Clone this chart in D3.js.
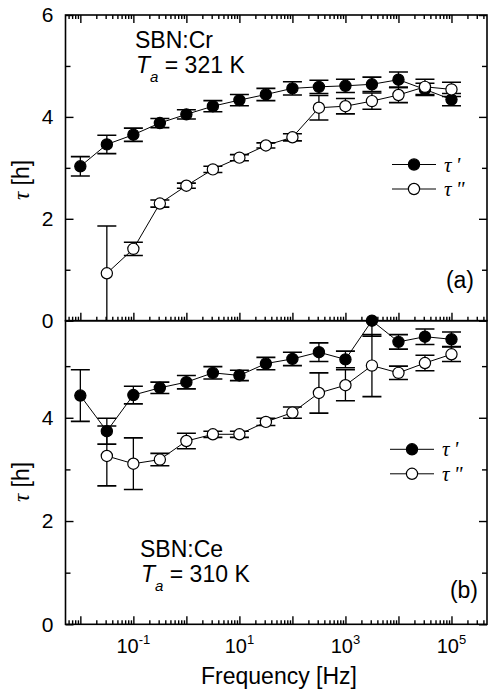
<!DOCTYPE html>
<html>
<head>
<meta charset="utf-8">
<script src="https://cdn.jsdelivr.net/npm/d3@7"></script>
<style>
  body { margin: 0; background: #fff; }
  text { font-family: "Liberation Sans", Arial, sans-serif; fill: #000; }
  .greek { font-family: "Liberation Serif", "DejaVu Serif", serif; font-style: italic; }
</style>
</head>
<body>
<div id="chart"></div>
<script>
// measurement frequencies (Hz)
const freqs = [0.01, 0.0316, 0.1, 0.316, 1, 3.16, 10, 31.6, 100, 316, 1000, 3160, 10000, 31600, 100000];

// (a) SBN:Cr, Ta = 321 K
const tauRealA = [3.03, 3.46, 3.65, 3.88, 4.05, 4.21, 4.33, 4.44, 4.56, 4.59, 4.61, 4.64, 4.73, 4.54, 4.34];
const errRealA = [0.19, 0.18, 0.13, 0.09, 0.09, 0.11, 0.11, 0.12, 0.13, 0.13, 0.13, 0.14, 0.15, 0.12, 0.12];
const tauImagA = [null, 0.93, 1.41, 2.30, 2.65, 2.97, 3.20, 3.44, 3.60, 4.18, 4.21, 4.31, 4.43, 4.59, 4.54];
const errImagA = [null, 0.93, 0.13, 0.07, 0.05, 0.06, 0.06, 0.05, 0.07, 0.24, 0.15, 0.16, 0.15, 0.15, 0.14];

// (b) SBN:Ce, Ta = 310 K
const tauRealB = [4.43, 3.74, 4.44, 4.58, 4.69, 4.87, 4.82, 5.05, 5.14, 5.27, 5.13, 5.88, 5.47, 5.57, 5.52];
const errRealB = [0.50, 0.25, 0.17, 0.11, 0.13, 0.12, 0.10, 0.12, 0.13, 0.18, 0.16, 0.30, 0.14, 0.15, 0.14];
const tauImagB = [null, 3.26, 3.11, 3.19, 3.55, 3.68, 3.68, 3.92, 4.10, 4.48, 4.63, 5.01, 4.87, 5.06, 5.23];
const errImagB = [null, 0.58, 0.50, 0.12, 0.15, 0.06, 0.06, 0.07, 0.11, 0.39, 0.30, 0.60, 0.13, 0.15, 0.14];

const yMajorA = [0, 2, 4, 6], yMinorA = [1, 3, 5];
const yMajorB = [0, 2, 4], yMinorB = [1, 3, 5];
const xLabelExps = [-1, 1, 3, 5];

const width = 488, height = 691;
const left = 65.5, right = 487;

const svg = d3.select("#chart").append("svg").attr("width", width).attr("height", height);

const x = d3.scaleLog().domain([Math.pow(10, -2.28), Math.pow(10, 5.67)]).range([left, right]);

// tick positions for the log axis
let xMajor = [], xMinor = [];
for (let e = -3; e <= 5; e++) {
  for (let k = 1; k <= 9; k++) {
    const v = k * Math.pow(10, e);
    if (v < x.domain()[0] || v > x.domain()[1]) continue;
    if (k == 1) xMajor.push(v); else xMinor.push(v);
  }
}

function drawPanel(cfg) {
  const y = d3.scaleLinear().domain(cfg.domain).range([cfg.bottom, cfg.top]);
  const g = svg.append("g");

  const clipId = "clip" + cfg.name;
  svg.append("clipPath").attr("id", clipId).append("rect")
    .attr("x", left).attr("y", cfg.top).attr("width", right - left).attr("height", cfg.bottom - cfg.top);

  // y ticks, left and right, pointing inward
  const yl = g.append("g").attr("transform", `translate(${left},0)`)
    .call(d3.axisLeft(y).tickValues(cfg.yMajor).tickSize(-8).tickPadding(12).tickFormat(d3.format("d")));
  yl.selectAll("text").style("font-size", "21px");
  g.append("g").attr("transform", `translate(${left},0)`)
    .call(d3.axisLeft(y).tickValues(cfg.yMinor).tickSize(-5).tickFormat(""));
  g.append("g").attr("transform", `translate(${right},0)`)
    .call(d3.axisRight(y).tickValues(cfg.yMajor).tickSize(-8).tickFormat(""));
  g.append("g").attr("transform", `translate(${right},0)`)
    .call(d3.axisRight(y).tickValues(cfg.yMinor).tickSize(-5).tickFormat(""));

  // x ticks on bottom (up), and top for panel a (down)
  g.append("g").attr("transform", `translate(0,${cfg.bottom})`)
    .call(d3.axisBottom(x).tickValues(xMajor).tickSize(-8).tickFormat(""));
  g.append("g").attr("transform", `translate(0,${cfg.bottom})`)
    .call(d3.axisBottom(x).tickValues(xMinor).tickSize(-4).tickFormat(""));
  if (cfg.topTicks) {
    g.append("g").attr("transform", `translate(0,${cfg.top})`)
      .call(d3.axisTop(x).tickValues(xMajor).tickSize(-8).tickFormat(""));
    g.append("g").attr("transform", `translate(0,${cfg.top})`)
      .call(d3.axisTop(x).tickValues(xMinor).tickSize(-4).tickFormat(""));
  }
  g.selectAll(".domain").remove();
  g.selectAll(".tick line").attr("stroke", "#000").attr("stroke-width", 1.4);

  g.append("rect").attr("x", left).attr("y", cfg.top)
    .attr("width", right - left).attr("height", cfg.bottom - cfg.top)
    .attr("fill", "none").attr("stroke", "#000").attr("stroke-width", 1.6);

  const series = [
    {vals: cfg.real, errs: cfg.realErr, fill: "#000"},
    {vals: cfg.imag, errs: cfg.imagErr, fill: "#fff"}
  ];

  const line = d3.line().defined(d => d.v != null).x(d => x(d.f)).y(d => y(d.v));

  series.forEach(s => {
    const pts = freqs.map((f, i) => ({f: f, v: s.vals[i], e: s.errs[i]})).filter(d => d.v != null);
    g.append("path").datum(pts).attr("d", line)
      .attr("fill", "none").attr("stroke", "#000").attr("stroke-width", 1);

    const eb = g.append("g").attr("clip-path", `url(#${clipId})`)
      .selectAll("g").data(pts).enter().append("g");
    eb.append("line")
      .attr("x1", d => x(d.f)).attr("x2", d => x(d.f))
      .attr("y1", d => y(d.v - d.e)).attr("y2", d => y(d.v + d.e))
      .attr("stroke", "#000").attr("stroke-width", 1.3);
    [-1, 1].forEach(sg => {
      eb.append("line")
        .attr("x1", d => x(d.f) - 9.5).attr("x2", d => x(d.f) + 9.5)
        .attr("y1", d => y(d.v + sg * d.e)).attr("y2", d => y(d.v + sg * d.e))
        .attr("stroke", "#000").attr("stroke-width", 1.6);
    });
  });

  series.forEach(s => {
    const pts = freqs.map((f, i) => ({f: f, v: s.vals[i]})).filter(d => d.v != null);
    g.selectAll(null).data(pts).enter().append("circle")
      .attr("cx", d => x(d.f)).attr("cy", d => y(d.v)).attr("r", 5.6)
      .attr("fill", s.fill).attr("stroke", "#000").attr("stroke-width", 1.2);
  });

  // legend
  [{fill: "#000", mark: "'", dy: 0}, {fill: "#fff", mark: "\"", dy: 24.5}].forEach(l => {
    const ly = cfg.legendY + l.dy;
    g.append("line").attr("x1", cfg.legendX - 22).attr("x2", cfg.legendX + 22)
      .attr("y1", ly).attr("y2", ly).attr("stroke", "#000").attr("stroke-width", 1);
    g.append("circle").attr("cx", cfg.legendX).attr("cy", ly).attr("r", 5.6)
      .attr("fill", l.fill).attr("stroke", "#000").attr("stroke-width", 1.2);
    g.append("text").attr("class", "greek").attr("x", cfg.legendX + 30).attr("y", ly + 7)
      .style("font-size", "21px").text("τ\u2009" + l.mark);
  });

  // sample annotation
  g.append("text").attr("x", cfg.noteX).attr("y", cfg.noteY).style("font-size", "23px").text(cfg.sample);
  const t = g.append("text").attr("x", cfg.noteX + 1).attr("y", cfg.noteY + 25).style("font-size", "23px");
  t.append("tspan").style("font-style", "italic").text("T");
  t.append("tspan").style("font-style", "italic").style("font-size", "15px").attr("dy", 9).text("a");
  t.append("tspan").attr("dy", -9).text(" = " + cfg.temp);

  g.append("text").attr("x", cfg.tagX).attr("y", cfg.tagY).attr("text-anchor", "end")
    .style("font-size", "23px").text(cfg.tag);

  // y axis title
  const yt = g.append("text").attr("text-anchor", "middle")
    .attr("transform", `translate(29,${cfg.labelY}) rotate(-90)`).style("font-size", "23px");
  yt.append("tspan").attr("class", "greek").text("τ");
  yt.append("tspan").text(" [h]");
}

drawPanel({name: "a", top: 15, bottom: 320.7, domain: [0, 6], yMajor: yMajorA, yMinor: yMinorA,
  topTicks: true, real: tauRealA, realErr: errRealA, imag: tauImagA, imagErr: errImagA,
  legendX: 414, legendY: 164.5, noteX: 135, noteY: 48, sample: "SBN:Cr", temp: "321 K",
  tag: "(a)", tagX: 474, tagY: 288, labelY: 180});

drawPanel({name: "b", top: 320.7, bottom: 624.3, domain: [0, 5.88], yMajor: yMajorB, yMinor: yMinorB,
  topTicks: false, real: tauRealB, realErr: errRealB, imag: tauImagB, imagErr: errImagB,
  legendX: 412, legendY: 449.3, noteX: 140, noteY: 557, sample: "SBN:Ce", temp: "310 K",
  tag: "(b)", tagX: 478, tagY: 598, labelY: 482});

// x tick labels 10^n
xLabelExps.forEach(e => {
  const t = svg.append("text").attr("x", x(Math.pow(10, e))).attr("y", 653)
    .attr("text-anchor", "middle").style("font-size", "20px");
  t.append("tspan").text("10");
  t.append("tspan").attr("dy", -9).style("font-size", "13px").text(e < 0 ? "-" + (-e) : e);
});

svg.append("text").attr("x", 279).attr("y", 684).attr("text-anchor", "middle")
  .style("font-size", "23px").text("Frequency [Hz]");
</script>
</body>
</html>
